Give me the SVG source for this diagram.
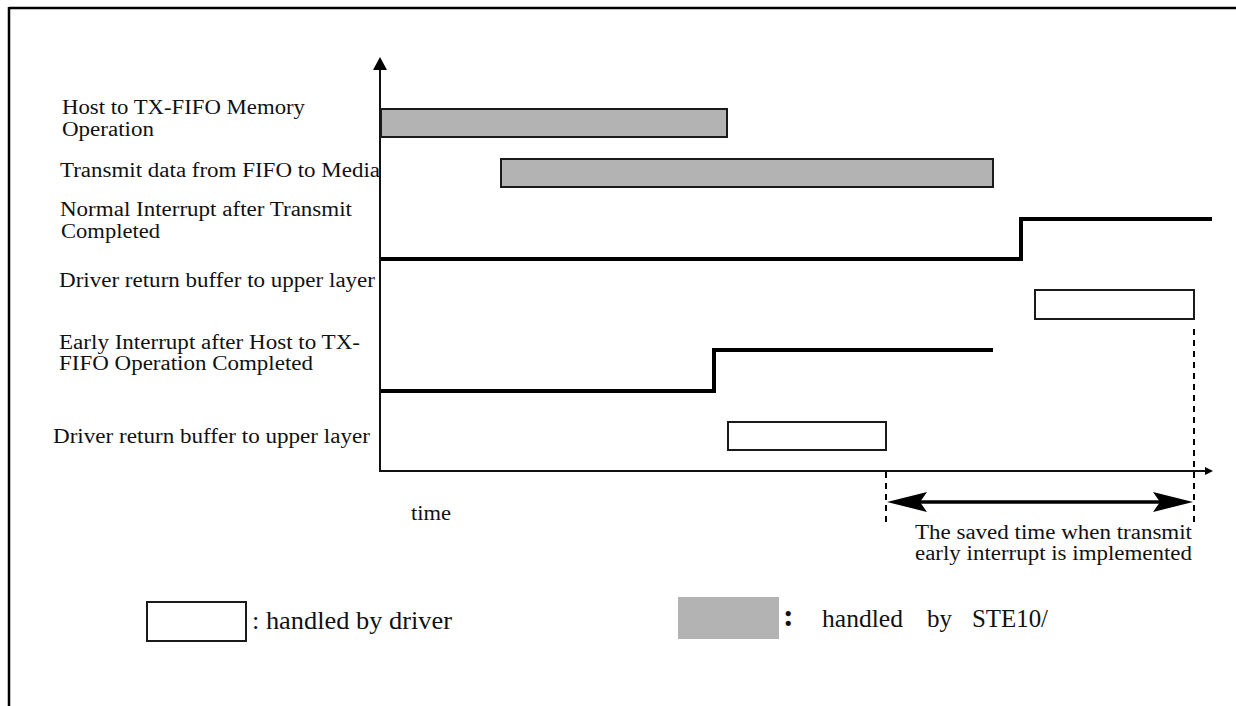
<svg xmlns="http://www.w3.org/2000/svg" width="1236" height="706" viewBox="0 0 1236 706">
<style>
  text { font-family: "Liberation Serif", "Times New Roman", serif; fill: #111; }
  .lbl { font-size: 20px; }
  .leg { font-size: 25px; }
  .bar { fill: #b3b3b3; stroke: #1a1a1a; stroke-width: 2; }
  .box { fill: #fff; stroke: #1a1a1a; stroke-width: 2; }
  .sig { fill: none; stroke: #000; stroke-width: 4; }
  .axis { fill: none; stroke: #111; stroke-width: 2; }
  .dash { fill: none; stroke: #000; stroke-width: 2; stroke-dasharray: 6 5; }
</style>
<rect x="0" y="0" width="1236" height="706" fill="#fff"/>
<g id="frame">
  <line x1="9" y1="8" x2="1236" y2="8" stroke="#000" stroke-width="2.5"/>
  <line x1="9" y1="7" x2="9" y2="706" stroke="#000" stroke-width="2.5"/>
</g>
<g id="connectors">
  <line class="axis" x1="380" y1="472" x2="380" y2="70"/>
  <path d="M373,70 L380,57 L387,70 Z" fill="#000"/>
  <line class="axis" x1="379" y1="471" x2="1207" y2="471"/>
  <path d="M1205,467 L1213,471 L1205,475 Z" fill="#000"/>
  <line class="dash" x1="886" y1="472" x2="886" y2="522"/>
  <line class="dash" x1="1194" y1="329" x2="1194" y2="522"/>
  <line x1="915" y1="502" x2="1165" y2="502" stroke="#000" stroke-width="3.5"/>
  <path d="M887,502 L927,492 L920,502 L927,512 Z" fill="#000"/>
  <path d="M1193,502 L1153,492 L1160,502 L1153,512 Z" fill="#000"/>
</g>
<g id="host-to-fifo">
  <text class="lbl" x="62" y="114" textLength="243" lengthAdjust="spacingAndGlyphs">Host to TX-FIFO Memory</text>
  <text class="lbl" x="62" y="136" textLength="92" lengthAdjust="spacingAndGlyphs">Operation</text>
  <rect class="bar" x="381" y="109" width="346" height="28"/>
</g>
<g id="transmit-fifo-media">
  <text class="lbl" x="60" y="177" textLength="320" lengthAdjust="spacingAndGlyphs">Transmit data from FIFO to Media</text>
  <rect class="bar" x="501" y="159" width="492" height="28"/>
</g>
<g id="normal-interrupt">
  <text class="lbl" x="60" y="216" textLength="292" lengthAdjust="spacingAndGlyphs">Normal Interrupt after Transmit</text>
  <text class="lbl" x="61" y="238" textLength="99" lengthAdjust="spacingAndGlyphs">Completed</text>
  <polyline class="sig" points="381,259 1021,259 1021,219 1212,219"/>
</g>
<g id="driver-return-normal">
  <text class="lbl" x="59" y="287" textLength="316" lengthAdjust="spacingAndGlyphs">Driver return buffer to upper layer</text>
  <rect class="box" x="1035" y="290" width="159" height="29"/>
</g>
<g id="early-interrupt">
  <text class="lbl" x="59" y="349" textLength="301" lengthAdjust="spacingAndGlyphs">Early Interrupt after Host to TX-</text>
  <text class="lbl" x="59" y="370" textLength="254" lengthAdjust="spacingAndGlyphs">FIFO Operation Completed</text>
  <polyline class="sig" points="381,391 714,391 714,350 993,350"/>
</g>
<g id="driver-return-early">
  <text class="lbl" x="53" y="443" textLength="317" lengthAdjust="spacingAndGlyphs">Driver return buffer to upper layer</text>
  <rect class="box" x="728" y="422" width="158" height="28"/>
</g>
<g id="time-label">
  <text class="lbl" x="411" y="520" textLength="40" lengthAdjust="spacingAndGlyphs">time</text>
</g>
<g id="saved-time">
  <text class="lbl" x="915" y="539" textLength="277" lengthAdjust="spacingAndGlyphs">The saved time when transmit</text>
  <text class="lbl" x="915" y="560" textLength="277" lengthAdjust="spacingAndGlyphs">early interrupt is implemented</text>
</g>
<g id="legend-driver">
  <rect class="box" x="147" y="602" width="99" height="39"/>
  <text class="leg" x="252" y="629" textLength="200" lengthAdjust="spacingAndGlyphs">: handled by driver</text>
</g>
<g id="legend-ste10">
  <rect x="678" y="597" width="101" height="42" fill="#b3b3b3"/>
  <text x="783" y="626" style="font-size:32px;font-weight:bold">:</text>
  <text class="leg" y="627"><tspan x="822" textLength="81" lengthAdjust="spacingAndGlyphs">handled</tspan><tspan x="927">by</tspan><tspan x="972" textLength="76" lengthAdjust="spacingAndGlyphs">STE10/</tspan></text>
</g>
</svg>
